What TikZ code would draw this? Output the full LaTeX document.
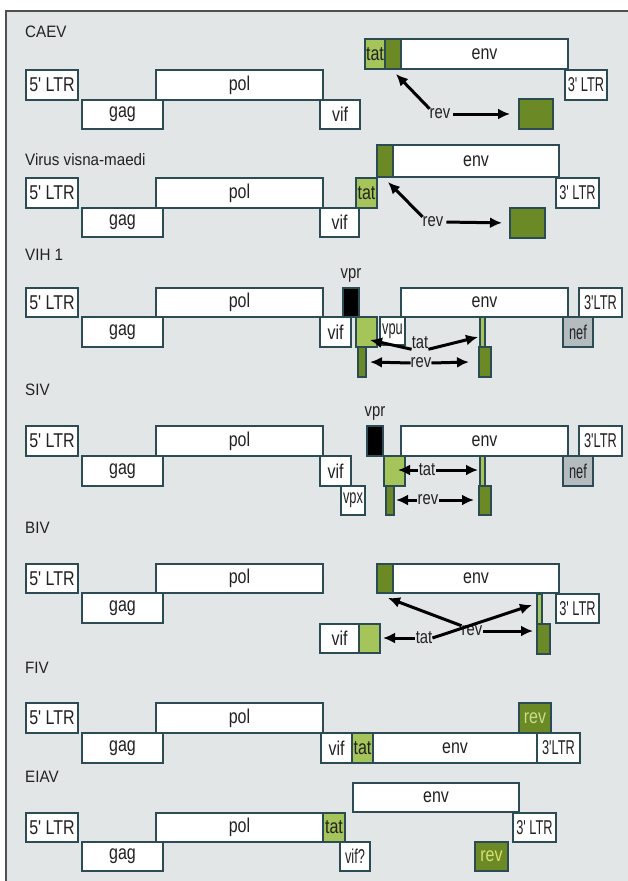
\documentclass[tikz,border=0pt]{standalone}
\usepackage{fontspec}
\setmainfont{Liberation Sans}
\newfontfamily\bxf[FakeStretch=0.8]{Liberation Sans}
\newfontfamily\lbf[FakeStretch=0.92]{Liberation Sans}
\usetikzlibrary{arrows.meta}
\definecolor{bgc}{HTML}{E3E6E6}
\definecolor{framec}{HTML}{505050}
\definecolor{bcol}{HTML}{2B4B55}
\definecolor{lgc}{HTML}{A5C45A}
\definecolor{dgc}{HTML}{6B8A25}
\definecolor{ngc}{HTML}{B5BCC0}
\definecolor{tcol}{HTML}{222222}
\definecolor{palerev}{HTML}{C8DC8C}
\definecolor{yelrev}{HTML}{D8E070}
\tikzset{
 gene/.style={draw=bcol, fill=white, line width=1.1pt, inner sep=0pt, outer sep=0pt,
   font=\bxf\fontsize{20}{20}\selectfont, text=tcol},
 lgene/.style={gene, fill=lgc},
 dgene/.style={gene, fill=dgc},
 bgene/.style={gene, fill=black},
 ngene/.style={gene, fill=ngc},
 vlabel/.style={font=\lbf\fontsize{16.5}{16.5}\selectfont, text=tcol, anchor=west, inner sep=0pt},
 tlabel/.style={font=\bxf\fontsize{18.5}{18.5}\selectfont, text=tcol, inner sep=0pt},
 arr/.style={line width=3pt, -{Latex[length=12pt,width=11pt]}, draw=black},
}
\newcommand\gb[7]{\node[#1, anchor=north west, minimum width={(#5-#3)*1pt}, minimum height={(#6-#4)*1pt}] (#2) at (#3,#4) {\makebox[0pt]{#7}};}
\newcommand\sq[1]{\scalebox{0.8}[1]{#1}}
\begin{document}
\begin{tikzpicture}[x=1pt,y=-1pt]
\useasboundingbox (0,0) rectangle (627,881);
\fill[bgc] (6,11) rectangle (640,900);
\draw[framec, line width=1.6pt] (6,900) -- (6,11) -- (640,11);

% ---------------- CAEV
\node[vlabel] (cL) at (25,32) {CAEV};
\gb{lgene}{ctat}{365}{39}{385}{69}{tat}
\gb{dgene}{cdg}{385}{39}{401}{69}{}
\gb{gene}{cenv}{401}{39}{568}{69}{env}
\gb{gene}{c5}{26}{70}{78}{100}{5' LTR}
\gb{gene}{cpol}{156}{70}{323}{100}{pol}
\gb{gene}{c3}{565}{70}{607}{100}{\sq{3' LTR}}
\gb{gene}{cgag}{82}{100}{163}{129}{gag}
\gb{gene}{cvif}{320}{100}{360}{129}{vif}
\gb{dgene}{crevp}{519}{99}{553}{129}{}
\node[tlabel] (crev) at (440,114) {rev};
\coordinate (cT1) at (396,74);
\draw[arr] (crev.north west) -- (cT1);
\draw[arr, shorten <=3pt, shorten >=9pt] (crev.east) -- (crevp.west);

% ---------------- Visna-maedi
\node[vlabel] (vL) at (25,160) {Virus visna-maedi};
\gb{dgene}{vdg}{377}{145}{393}{177}{}
\gb{gene}{venv}{393}{145}{559}{177}{env}
\gb{gene}{v5}{26}{178}{78}{208}{5' LTR}
\gb{gene}{vpol}{156}{178}{323}{208}{pol}
\gb{lgene}{vtat}{356}{178}{377}{208}{tat}
\gb{gene}{v3}{556}{178}{599}{208}{\sq{3' LTR}}
\gb{gene}{vgag}{82}{208}{163}{237}{gag}
\gb{gene}{vvif}{320}{208}{359}{237}{vif}
\gb{dgene}{vrevp}{510}{208}{545}{238}{}
\node[tlabel] (vrev) at (433,222) {rev};
\coordinate (vT1) at (388,182);
\draw[arr] (vrev.north west) -- (vT1);
\draw[arr, shorten <=3pt, shorten >=8pt] (vrev.east) -- (vrevp.west);

% ---------------- VIH 1
\node[vlabel] (hL) at (25,255) {VIH 1};
\node[tlabel] (hvprt) at (351,275) {vpr};
\gb{bgene}{hvpr}{343}{288}{359}{317}{}
\gb{gene}{h5}{26}{288}{78}{317}{5' LTR}
\gb{gene}{hpol}{156}{288}{323}{317}{pol}
\gb{gene}{henv}{401}{288}{568}{317}{env}
\gb{gene}{h3}{579}{288}{622}{317}{\sq{3'LTR}}
\gb{gene}{hgag}{82}{317}{163}{347}{gag}
\gb{gene}{hvif}{320}{317}{351}{347}{vif}
\gb{lgene}{htat}{356}{317}{377}{347}{}
\gb{gene}{hvpu}{380}{317}{405}{345}{\sq{vpu}}
\gb{lgene}{htat2}{480}{317}{485}{347}{}
\gb{ngene}{hnef}{563}{317}{593}{347}{\sq{nef}}
\gb{dgene}{hrev1}{358}{347}{366}{377}{}
\gb{dgene}{hrev2}{479}{347}{491}{377}{}
\node[tlabel] (htt) at (420,343) {tat};
\node[tlabel] (hrt) at (421,363) {rev};
\coordinate (hT1) at (370,340);
\coordinate (hT2) at (478,337);
\coordinate (hR1) at (370,362);
\coordinate (hR2) at (469,362);
\draw[arr] (htt.south west) -- (hT1);
\draw[arr] (htt.south east) -- (hT2);
\draw[arr] (hrt.west) -- (hR1);
\draw[arr] (hrt.east) -- (hR2);

% ---------------- SIV
\node[vlabel] (sL) at (25,390) {SIV};
\node[tlabel] (svprt) at (375,413) {vpr};
\gb{bgene}{svpr}{367}{426}{383}{456}{}
\gb{gene}{s5}{26}{426}{78}{456}{5' LTR}
\gb{gene}{spol}{156}{426}{323}{456}{pol}
\gb{gene}{senv}{401}{426}{568}{456}{env}
\gb{gene}{s3}{579}{426}{622}{456}{\sq{3'LTR}}
\gb{gene}{sgag}{82}{456}{163}{486}{gag}
\gb{gene}{svif}{320}{456}{351}{486}{vif}
\gb{lgene}{stat}{384}{456}{405}{486}{}
\gb{lgene}{stat2}{480}{456}{485}{486}{}
\gb{ngene}{snef}{563}{456}{593}{486}{\sq{nef}}
\gb{gene}{svpx}{341}{486}{365}{515}{\sq{vpx}}
\gb{dgene}{srev1}{386}{486}{394}{515}{}
\gb{dgene}{srev2}{479}{486}{491}{515}{}
\node[tlabel] (stt) at (427,470) {tat};
\node[tlabel] (srt) at (428,500) {rev};
\coordinate (sT1) at (398,470);
\coordinate (sT2) at (478,470);
\coordinate (sR1) at (396,500);
\coordinate (sR2) at (474,500);
\draw[arr, shorten <=1pt] (stt.west) -- (sT1);
\draw[arr, shorten <=1pt] (stt.east) -- (sT2);
\draw[arr, shorten <=1pt] (srt.west) -- (sR1);
\draw[arr, shorten <=1pt] (srt.east) -- (sR2);

% ---------------- BIV
\node[vlabel] (bL) at (25,528) {BIV};
\gb{gene}{b5}{26}{564}{78}{593}{5' LTR}
\gb{gene}{bpol}{156}{564}{323}{593}{pol}
\gb{dgene}{bdg}{377}{564}{393}{593}{}
\gb{gene}{benv}{393}{564}{559}{593}{env}
\gb{gene}{bgag}{82}{593}{163}{623}{gag}
\gb{gene}{b3}{556}{594}{599}{623}{\sq{3' LTR}}
\gb{lgene}{btat2}{537}{594}{542}{624}{}
\gb{dgene}{brev2}{537}{624}{550}{654}{}
\gb{gene}{bvif}{320}{624}{359}{653}{vif}
\gb{lgene}{btat}{359}{624}{380}{653}{}
\node[tlabel] (btt) at (424,638) {tat};
\node[tlabel] (brt) at (472,631) {rev};
\coordinate (bT1) at (383,638);
\coordinate (bR1) at (533,631);
\coordinate (bT3) at (388,598);
\coordinate (bT4) at (532,605);
\draw[arr, shorten <=1pt] (btt.west) -- (bT1);
\draw[arr, shorten <=1pt] (brt.east) -- (bR1);
\draw[arr] (brt.north west) -- (bT3);
\draw[arr] (btt.east) -- (bT4);

% ---------------- FIV
\node[vlabel] (fL) at (25,668) {FIV};
\gb{gene}{f5}{26}{703}{78}{733}{5' LTR}
\gb{gene}{fpol}{156}{703}{323}{733}{pol}
\gb{dgene}{frev}{519}{703}{551}{733}{\textcolor{palerev}{rev}}
\gb{gene}{fgag}{82}{733}{163}{763}{gag}
\gb{gene}{fvif}{321}{733}{352}{763}{vif}
\gb{lgene}{ftat}{352}{733}{373}{763}{tat}
\gb{gene}{fenv}{373}{733}{537}{763}{env}
\gb{gene}{f3}{537}{733}{580}{763}{\sq{3'LTR}}

% ---------------- EIAV
\node[vlabel] (eL) at (25,777) {EIAV};
\gb{gene}{eenv}{353}{783}{519}{812}{env}
\gb{gene}{e5}{26}{813}{78}{842}{5' LTR}
\gb{gene}{epol}{156}{813}{323}{842}{pol}
\gb{lgene}{etat}{323}{813}{345}{842}{tat}
\gb{gene}{e3}{513}{813}{556}{842}{\sq{3' LTR}}
\gb{gene}{egag}{82}{842}{163}{871}{gag}
\gb{gene}{evif}{340}{842}{370}{871}{\sq{vif?}}
\gb{dgene}{erev}{475}{842}{508}{871}{\textcolor{yelrev}{rev}}
\end{tikzpicture}
\end{document}
